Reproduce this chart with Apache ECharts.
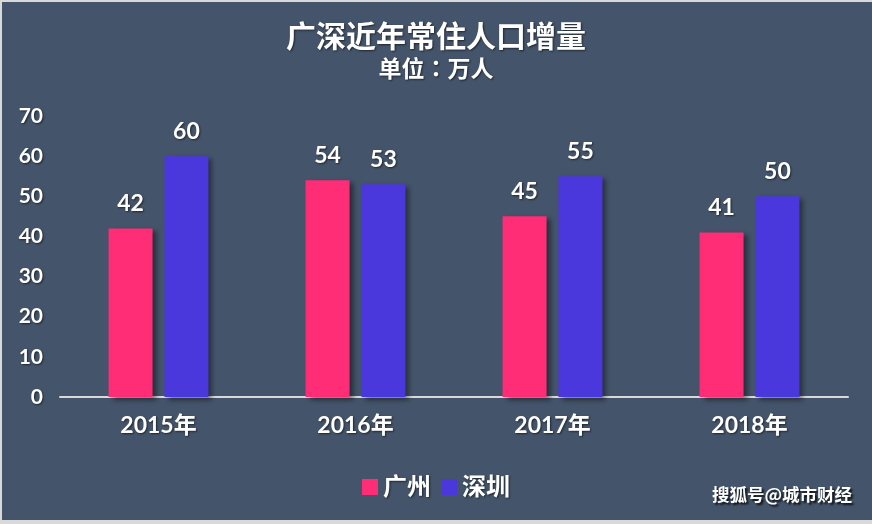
<!DOCTYPE html>
<html><head><meta charset="utf-8">
<script src="https://cdn.jsdelivr.net/npm/echarts@6/dist/echarts.min.js"></script>
<style>html,body{margin:0;padding:0;background:#d9d9d9;}#c{width:872px;height:524px;}</style>
</head><body><div id="c"></div>
<script>
const categories = ['2015年', '2016年', '2017年', '2018年'];
const guangzhou = [42, 54, 45, 41];
const shenzhen = [60, 53, 55, 50];
const seriesNames = ['广州', '深圳'];
const FONT = 'Lato, "Noto Sans CJK SC", sans-serif';
const shadowText = {textShadowColor: 'rgba(0,0,0,0.55)', textShadowBlur: 2, textShadowOffsetX: 1, textShadowOffsetY: 1};
const chart = echarts.init(document.getElementById('c'), null, {renderer: 'canvas'});
const barShadow = {shadowColor: 'rgba(0,0,0,0.45)', shadowBlur: 5, shadowOffsetX: 4, shadowOffsetY: 3};
chart.setOption({
  backgroundColor: '#d9d9d9',
  animation: false,
  graphic: [
    {type: 'rect', left: 2, top: 2, shape: {width: 870, height: 518}, style: {fill: '#44546A'}, z: -10, silent: true},
    {type: 'text', left: 712, top: 486, z: 10, style: Object.assign({text: '搜狐号@城市财经', fill: '#ffffff', font: 'bold 17.5px "Noto Sans CJK SC", sans-serif', textShadowColor: 'rgba(0,0,0,0.8)', textShadowBlur: 2, textShadowOffsetX: 2, textShadowOffsetY: 2})}
  ],
  title: {
    text: '广深近年常住人口增量',
    subtext: '单位：万人',
    left: 'center', top: 17, itemGap: 5,
    textStyle: Object.assign({color: '#fff', fontSize: 30, fontWeight: 'bold', fontFamily: FONT}, shadowText),
    subtextStyle: Object.assign({color: '#fff', fontSize: 23, fontWeight: 'bold', fontFamily: '"Noto Sans CJK TC", "Noto Sans CJK SC", sans-serif'}, shadowText)
  },
  legend: {
    data: seriesNames, left: 'center', top: 470, icon: 'rect', itemWidth: 16, itemHeight: 16, itemGap: 10,
    textStyle: Object.assign({color: '#fff', fontSize: 24, fontWeight: 'bold', fontFamily: FONT}, shadowText)
  },
  grid: {left: 60, right: 24, top: 116, bottom: 127, containLabel: false},
  xAxis: {
    type: 'category', data: categories,
    axisLine: {lineStyle: {color: '#d9d9d9', width: 2}},
    axisTick: {show: false},
    axisLabel: Object.assign({color: '#fff', fontSize: 23, fontWeight: 'bold', fontFamily: FONT, margin: 17}, shadowText)
  },
  yAxis: {
    type: 'value', min: 0, max: 70, interval: 10,
    axisLine: {show: false}, axisTick: {show: false}, splitLine: {show: false},
    axisLabel: Object.assign({color: '#fff', fontSize: 21, fontWeight: 'bold', fontFamily: FONT, margin: 17}, shadowText)
  },
  series: [
    {name: seriesNames[0], type: 'bar', data: guangzhou, barWidth: 44, barGap: '27%',
     itemStyle: Object.assign({color: '#FF2D75'}, barShadow),
     label: Object.assign({show: true, position: 'top', distance: 13, color: '#fff', fontSize: 23, fontWeight: 'bold', fontFamily: FONT}, shadowText)},
    {name: seriesNames[1], type: 'bar', data: shenzhen, barWidth: 44,
     itemStyle: Object.assign({color: '#4B38DD'}, barShadow),
     label: Object.assign({show: true, position: 'top', distance: 13, color: '#fff', fontSize: 23, fontWeight: 'bold', fontFamily: FONT}, shadowText)}
  ]
});
</script></body></html>
